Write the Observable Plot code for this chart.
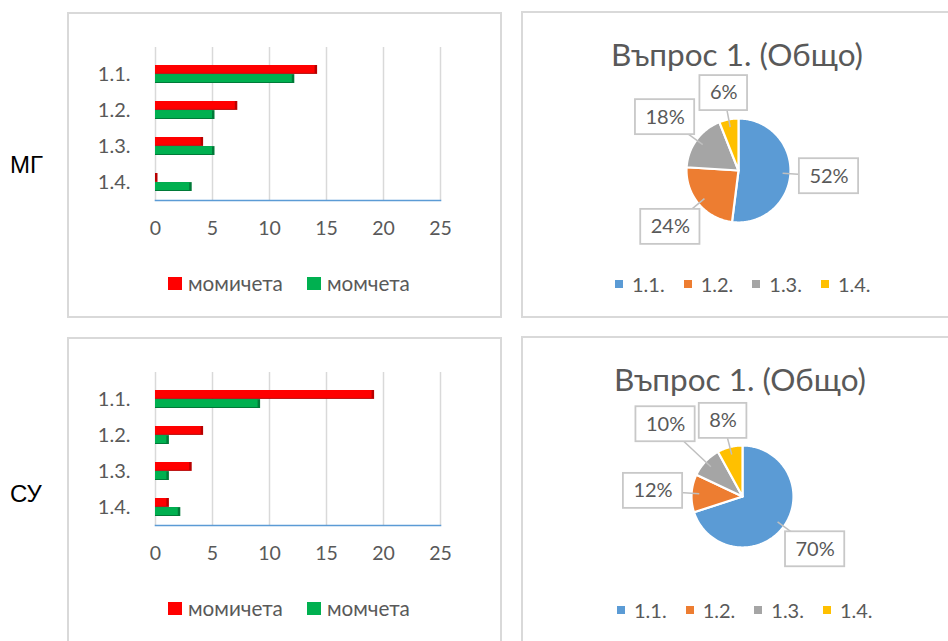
<!DOCTYPE html>
<html><head><meta charset="utf-8">
<script src="https://cdn.jsdelivr.net/npm/d3@7"></script>
<script src="https://cdn.jsdelivr.net/npm/@observablehq/plot@0.6"></script>
<style>
html,body{margin:0;padding:0;background:#fff;}
body{width:948px;height:641px;overflow:hidden;position:relative;font-family:Lato,"Open Sans",sans-serif;}
.panel{position:absolute;border:2px solid #d9d9d9;box-sizing:border-box;}
.rowlabel{position:absolute;font-family:"Liberation Sans",Arial,sans-serif;font-size:24px;line-height:24px;color:#000;}
.title{position:absolute;font-size:31.5px;line-height:31px;color:#595959;text-align:center;white-space:nowrap;}
.legend{position:absolute;display:flex;align-items:center;color:#595959;white-space:nowrap;height:20px;line-height:20px;}
.legend span.sw{display:inline-block;}
</style></head><body>
<script>
// ---------------- data ----------------
const categories = ["1.1.", "1.2.", "1.3.", "1.4."];
const seriesNames = ["момичета", "момчета"];
const groupNames = ["МГ", "СУ"];
const girlsMG = [14, 7, 4, 0];
const boysMG = [12, 5, 5, 3];
const girlsSU = [19, 4, 3, 1];
const boysSU = [9, 1, 1, 2];
const xTicks = [0, 5, 10, 15, 20, 25];
const pieTitle = "Въпрос 1. (Общо)";
const pctMG = [52, 24, 18, 6];
const pctSU = [70, 12, 10, 8];

// ---------------- styles ----------------
const FONT = "Lato, 'Open Sans', sans-serif";
const TEXT = "#595959";
const seriesColors = ["#ff0000", "#00b050"];
const seriesDark = ["#b80000", "#007a38"];
const pieColors = ["#5b9bd5", "#ed7d31", "#a5a5a5", "#ffc000"];

function place(el, left, top) {
  el.style.position = "absolute";
  el.style.left = left + "px";
  el.style.top = top + "px";
  document.body.appendChild(el);
  return el;
}
function div(cls, text) { const d = document.createElement("div"); d.className = cls; if (text != null) d.textContent = text; return d; }

// panels
[[67, 12, 435, 306], [521, 11, 440, 307], [67, 337, 435, 320], [521, 336, 440, 320]].forEach(([l, t, w, h]) => {
  const p = div("panel"); p.style.width = w + "px"; p.style.height = h + "px"; place(p, l, t);
});

// row labels
place(div("rowlabel", groupNames[0]), 10, 153);
place(div("rowlabel", groupNames[1]), 10, 482);

// ---------------- bar chart ----------------
function barChart(girls, boys) {
  const rows = categories.map((c, i) => ({cat: c, girls: girls[i], boys: boys[i]}));
  const half = 9.1;
  return Plot.plot({
    width: 434, height: 240,
    marginLeft: 87, marginRight: 62, marginTop: 34, marginBottom: 53,
    style: {fontFamily: FONT, fontSize: "19px", color: TEXT, background: "none", overflow: "visible"},
    x: {domain: [0, 25]},
    y: {domain: categories, paddingInner: 0.5, paddingOuter: 0.335, align: 0.65},
    marks: [
      Plot.ruleX(xTicks, {stroke: "#d9d9d9", strokeWidth: 1.5}),
      Plot.frame({anchor: "bottom", stroke: "#5b9bd5", strokeWidth: 1.6}),
      Plot.barX(rows, {x: "girls", y: "cat", fill: seriesDark[0], insetBottom: half, insetRight: -2.5}),
      Plot.barX(rows, {x: "girls", y: "cat", fill: seriesColors[0], insetBottom: half + 1}),
      Plot.barX(rows, {x: "boys", y: "cat", fill: seriesDark[1], insetTop: half, insetRight: -2.5}),
      Plot.barX(rows, {x: "boys", y: "cat", fill: seriesColors[1], insetTop: half, insetBottom: 1}),
      Plot.axisX(xTicks, {tickSize: 0, tickPadding: 21, fontSize: 19.5, label: null}),
      Plot.axisY({tickSize: 0, tickPadding: 25, fontSize: 20, label: null})
    ]
  });
}

function barLegend(left, top) {
  const lg = div("legend");
  lg.style.fontSize = "20.7px";
  seriesNames.forEach((name, i) => {
    const sw = document.createElement("span"); sw.className = "sw";
    sw.style.cssText = `width:14px;height:13px;background:${seriesColors[i]};margin-right:6px;`;
    const tx = document.createElement("span"); tx.textContent = name;
    if (i === 0) tx.style.marginRight = "24px";
    lg.appendChild(sw); lg.appendChild(tx);
  });
  place(lg, left, top);
}

// ---------------- pie chart ----------------
const measureCtx = document.createElement("canvas").getContext("2d");
function pieChart(values, W, H, cx, cy, r) {
  const total = d3.sum(values);
  let acc = 0;
  const slices = values.map((v, i) => {
    const a0 = acc / total * 2 * Math.PI; acc += v;
    const a1 = acc / total * 2 * Math.PI;
    return {cat: categories[i], v, a0, a1, mid: (a0 + a1) / 2};
  });
  const pts = [];
  for (const s of slices) {
    pts.push({cat: s.cat, x: 0, y: 0});
    const n = Math.max(2, Math.ceil((s.a1 - s.a0) / (Math.PI / 180)));
    for (let k = 0; k <= n; k++) {
      const a = s.a0 + (s.a1 - s.a0) * k / n;
      pts.push({cat: s.cat, x: Math.sin(a), y: Math.cos(a)});
    }
    pts.push({cat: s.cat, x: 0, y: 0});
  }
  // label boxes (callouts), positioned just outside the slice mid-angle
  measureCtx.font = "20px " + FONT;
  const boxH = 35, pad = 10, gap = 9;
  const labs = slices.map(s => {
    const txt = s.v + "%";
    const w = measureCtx.measureText(txt).width + 2 * pad;
    const sx = Math.sin(s.mid), cy_ = Math.cos(s.mid);
    const t = Math.min((w / 2) / Math.max(Math.abs(sx), 1e-6), (boxH / 2) / Math.max(Math.abs(cy_), 1e-6));
    return {txt, w, sx, cy: cy_, dist: r + gap + t, mid: s.mid};
  });
  const boxOf = l => {
    const x = l.sx * l.dist, y = l.cy * l.dist;
    return {x1: x - l.w / 2, x2: x + l.w / 2, y1: y - boxH / 2, y2: y + boxH / 2};
  };
  const overlap = (a, b) => a.x1 < b.x2 + 4 && b.x1 < a.x2 + 4 && a.y1 < b.y2 + 4 && b.y1 < a.y2 + 4;
  for (let j = 1; j < labs.length; j++) {
    for (let i = 0; i < j; i++) {
      let guard = 0;
      while (overlap(boxOf(labs[i]), boxOf(labs[j])) && guard++ < 200) labs[i].dist += 1;
    }
  }
  const labels = labs.map(l => {
    const b = boxOf(l);
    return {
      txt: l.txt,
      lx: l.sx * l.dist / r, ly: l.cy * l.dist / r,
      px: l.sx * 0.85, py: l.cy * 0.85,
      bx1: b.x1 / r, bx2: b.x2 / r, by1: b.y1 / r, by2: b.y2 / r
    };
  });
  return Plot.plot({
    width: W, height: H, margin: 0,
    style: {fontFamily: FONT, color: TEXT, background: "none", overflow: "visible"},
    x: {domain: [-cx / r, (W - cx) / r], axis: null},
    y: {domain: [-(H - cy) / r, cy / r], axis: null},
    color: {domain: categories, range: pieColors},
    marks: [
      Plot.line(pts, {x: "x", y: "y", z: "cat", fill: "cat", stroke: "white", strokeWidth: 2.2, curve: "linear"}),
      Plot.link(labels, {x1: "lx", y1: "ly", x2: "px", y2: "py", stroke: "#bfbfbf", strokeWidth: 1.5}),
      Plot.rect(labels, {x1: "bx1", x2: "bx2", y1: "by1", y2: "by2", fill: "white", stroke: "#c8c8c8", strokeWidth: 1.8}),
      Plot.text(labels, {x: "lx", y: "ly", text: "txt", fontSize: 20, fill: TEXT})
    ]
  });
}

function pieLegend(left, top) {
  const lg = div("legend");
  lg.style.fontSize = "20px";
  categories.forEach((c, i) => {
    const sw = document.createElement("span"); sw.className = "sw";
    sw.style.cssText = `width:8px;height:8px;background:${pieColors[i]};margin-right:9px;`;
    const tx = document.createElement("span"); tx.textContent = c;
    if (i < categories.length - 1) tx.style.marginRight = "19px";
    lg.appendChild(sw); lg.appendChild(tx);
  });
  place(lg, left, top);
}

function title(text, centerX, top) {
  const t = div("title", text);
  t.style.width = "400px";
  place(t, centerX - 200, top);
}

// ---------------- compose ----------------
place(barChart(girlsMG, boysMG), 68, 13);
barLegend(168, 273);
place(barChart(girlsSU, boysSU), 68, 338);
barLegend(168, 598);

title(pieTitle, 737, 39);
place(pieChart(pctMG, 426, 200, 216, 98, 52), 522, 72);
pieLegend(615, 274);

title(pieTitle, 740, 364);
place(pieChart(pctSU, 426, 200, 220, 98, 51), 522, 398);
pieLegend(617, 600);
</script>
</body></html>
